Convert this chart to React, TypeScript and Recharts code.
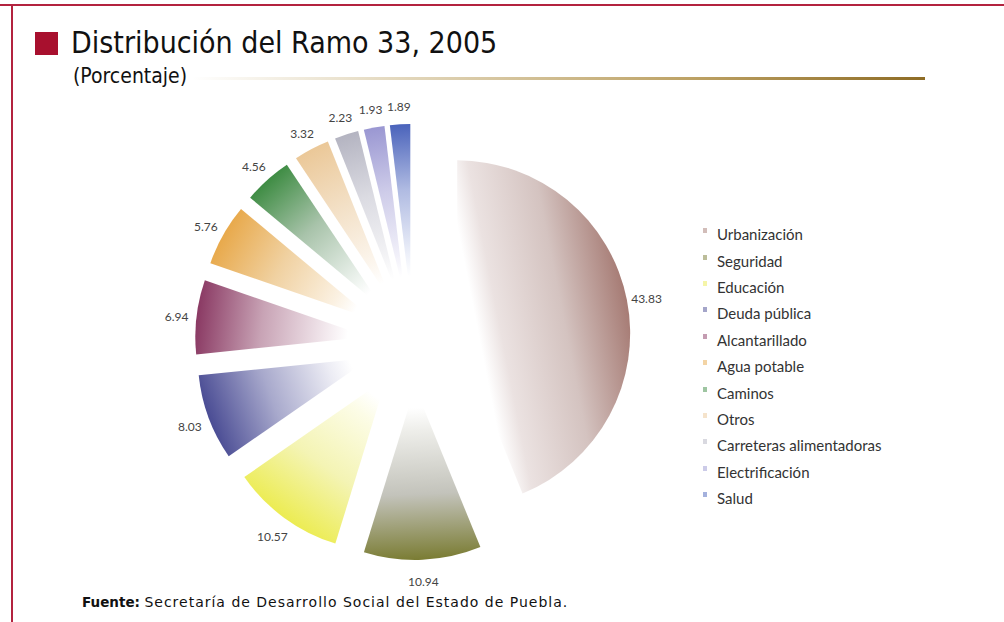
import React from 'react';
import { PieChart, Pie, Cell, Sector, Legend } from 'recharts';

const RUBROS = [
  'Urbanización',
  'Seguridad',
  'Educación',
  'Deuda pública',
  'Alcantarillado',
  'Agua potable',
  'Caminos',
  'Otros',
  'Carreteras alimentadoras',
  'Electrificación',
  'Salud',
];
const PORCENTAJES = [43.83, 10.94, 10.57, 8.03, 6.94, 5.76, 4.56, 3.32, 2.23, 1.93, 1.89];
const COLORES = ['#a67b74', '#7a7c33', '#ecec52', '#4a4c94', '#8a3963', '#e8a94b', '#3e8c43', '#ebc898', '#b4b4c1', '#9a97d2', '#4a63bb'];
const TONOS_MEDIOS = ['#d4c3c0', '#c3c3bb', '#f4f4b4', '#a8a9cc', '#c8a3b5', '#f0d1a1', '#a8c3aa', '#f3e0c6', '#dbdbe2', '#cecce9', '#b0bbe2'];
const TONOS_CLAROS = ['#ebe2e1', '#eeeeea', '#fcfce6', '#ececf4', '#f2e8ed', '#fbf1e2', '#e9f0ea', '#fcf6ee', '#f4f4f6', '#f1f0f9', '#edf0f9'];

const data = RUBROS.map((name, i) => ({ name, value: PORCENTAJES[i], idx: i }));

const RADIAN = Math.PI / 180;
const EXPLODE = 45;
const PIE_FONT = 'Lato, "Open Sans", sans-serif';

// separated slices with a fade from white at the centre
const renderSlice = (props: any) => {
  const { cx, cy, innerRadius, outerRadius, startAngle, endAngle, midAngle, payload } = props;
  const i = payload?.idx ?? 0;
  const cos = Math.cos(-midAngle * RADIAN);
  const sin = Math.sin(-midAngle * RADIAN);
  const dx = EXPLODE * cos;
  const dy = EXPLODE * sin;
  const gid = `slice-grad-${i}`;
  return (
    <g transform={`translate(${dx},${dy})`}>
      <defs>
        <linearGradient
          id={gid}
          gradientUnits="userSpaceOnUse"
          x1={cx}
          y1={cy}
          x2={cx + outerRadius * cos}
          y2={cy + outerRadius * sin}
        >
          <stop offset="0%" stopColor="#ffffff" />
          <stop offset="12%" stopColor="#ffffff" />
          <stop offset="25%" stopColor={TONOS_CLAROS[i]} />
          <stop offset="62%" stopColor={TONOS_MEDIOS[i]} />
          <stop offset="100%" stopColor={COLORES[i]} />
        </linearGradient>
      </defs>
      <Sector
        cx={cx}
        cy={cy}
        innerRadius={innerRadius}
        outerRadius={outerRadius}
        startAngle={startAngle}
        endAngle={endAngle}
        fill={`url(#${gid})`}
        stroke="none"
      />
    </g>
  );
};

const renderLabel = (props: any) => {
  const { cx, cy, midAngle, outerRadius, value } = props;
  const r = outerRadius + EXPLODE + 20;
  const x = cx + r * Math.cos(-midAngle * RADIAN);
  const y = cy + r * Math.sin(-midAngle * RADIAN);
  return (
    <text x={x} y={y + 2} textAnchor="middle" dominantBaseline="central" fill="#444" fontSize={12} fontFamily={PIE_FONT}>
      {value.toFixed(2)}
    </text>
  );
};

const renderLegend = () => (
  <div style={{ fontFamily: PIE_FONT, fontSize: 15, color: '#333' }}>
    {RUBROS.map((name, i) => (
      <div key={name} style={{ height: 26.4, display: 'flex', alignItems: 'center' }}>
        <span style={{ width: 4, height: 5, background: COLORES[i], opacity: 0.5, marginRight: 10, marginTop: -7 }} />
        <span>{name}</span>
      </div>
    ))}
  </div>
);

const App = () => {
  return (
    <div style={{ position: 'absolute', left: 0, top: 0, width: 1004, height: 622, background: '#fff', overflow: 'hidden' }}>
      <div style={{ position: 'absolute', left: 0, top: 4, width: 1004, height: 2, background: '#b3233f' }} />
      <div style={{ position: 'absolute', left: 11, top: 4, width: 2, height: 618, background: '#b3233f' }} />
      <div style={{ position: 'absolute', left: 35, top: 32, width: 23, height: 23, background: '#a8102e' }} />
      <div
        style={{
          position: 'absolute',
          left: 71,
          top: 25,
          fontFamily: '"DejaVu Sans Condensed", "DejaVu Sans", sans-serif',
          fontStretch: 'condensed',
          fontSize: 30,
          color: '#111',
          whiteSpace: 'nowrap',
        }}
      >
        Distribución del Ramo 33, 2005
      </div>
      <div
        style={{
          position: 'absolute',
          left: 73,
          top: 64,
          fontFamily: '"DejaVu Sans Condensed", "DejaVu Sans", sans-serif',
          fontStretch: 'condensed',
          fontSize: 21,
          color: '#111',
          whiteSpace: 'nowrap',
        }}
      >
        (Porcentaje)
      </div>
      <div
        style={{
          position: 'absolute',
          left: 192,
          top: 77,
          width: 733,
          height: 3,
          background: 'linear-gradient(to right, #ffffff 0%, #e6dcc4 25%, #bda265 68%, #8e6c25 100%)',
        }}
      />
      <div style={{ position: 'absolute', left: 0, top: 0 }}>
        <PieChart width={1004} height={622} margin={{ top: 0, right: 0, bottom: 0, left: 0 }}>
          <Pie
            data={data}
            dataKey="value"
            nameKey="name"
            cx={413}
            cy={342}
            outerRadius={173}
            startAngle={90}
            endAngle={-270}
            stroke="none"
            shape={renderSlice}
            activeShape={renderSlice}
            inactiveShape={renderSlice}
            label={renderLabel}
            labelLine={false}
            isAnimationActive={false}
          >
            {data.map((d, i) => (
              <Cell key={d.name} fill={COLORES[i]} />
            ))}
          </Pie>
          <Legend
            layout="vertical"
            align="right"
            verticalAlign="top"
            content={renderLegend}
            wrapperStyle={{ left: 703, top: 221, width: 250 }}
          />
        </PieChart>
      </div>
      <div
        style={{
          position: 'absolute',
          left: 82,
          top: 594,
          fontFamily: '"DejaVu Sans", Verdana, sans-serif',
          fontSize: 14,
          color: '#111',
          whiteSpace: 'nowrap',
        }}
      >
        <b style={{ fontSize: 13.5 }}>Fuente:</b>{' '}
        <span style={{ letterSpacing: 1 }}>Secretaría de Desarrollo Social del Estado de Puebla.</span>
      </div>
    </div>
  );
};

export default App;
